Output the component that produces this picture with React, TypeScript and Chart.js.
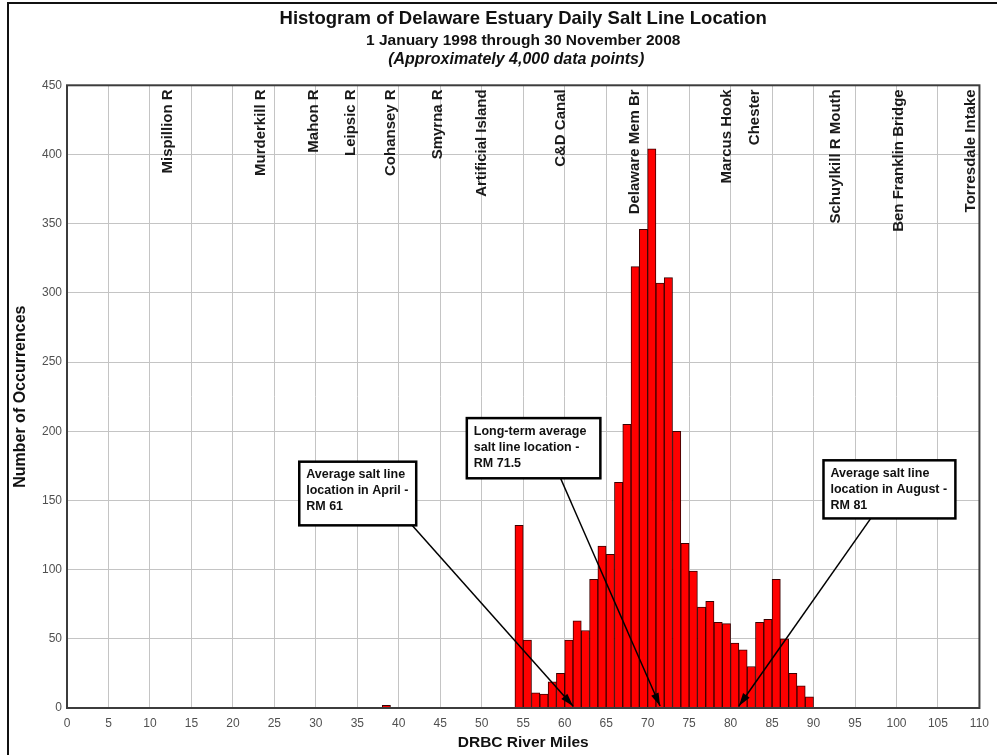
import React, { useEffect, useRef } from "react";
import { Chart, registerables } from "chart.js";

Chart.register(...registerables);

const FONT = "'Liberation Sans', Arial, Helvetica, sans-serif";

// Histogram bins (start mile of each 1-mile bin) and counts
const binStarts = [
  38, 54, 55, 56, 57, 58, 59, 60, 61, 62, 63, 64, 65, 66, 67, 68, 69, 70, 71, 72,
  73, 74, 75, 76, 77, 78, 79, 80, 81, 82, 83, 84, 85, 86, 87, 88, 89,
];
const binCounts = [
  2, 132, 49, 11, 10, 19, 25, 49, 63, 56, 93, 117, 111, 163, 205, 319, 346, 404,
  307, 311, 200, 119, 99, 73, 77, 62, 61, 47, 42, 30, 62, 64, 93, 50, 25, 16, 8,
];

// Landmarks along the estuary (river mile)
const landmarkNames = [
  "Mispillion R",
  "Murderkill R",
  "Mahon R",
  "Leipsic R",
  "Cohansey R",
  "Smyrna R",
  "Artificial Island",
  "C&D Canal",
  "Delaware Mem Br",
  "Marcus Hook",
  "Chester",
  "Schuylkill R Mouth",
  "Ben Franklin Bridge",
  "Torresdale Intake",
];
const landmarkMiles = [
  12.2, 23.4, 29.8, 34.2, 39.0, 44.7, 50.0, 59.5, 68.5, 79.5, 82.9, 92.7, 100.3,
  109.0,
];

// Callouts
const calloutLines = [
  ["Average salt line", "location in April -", "RM 61"],
  ["Long-term average", "salt line location -", "RM 71.5"],
  ["Average salt line", "location in August -", "RM 81"],
];
const calloutTargetMiles = [61, 71.5, 81];

const titleText = "Histogram of Delaware Estuary Daily Salt Line Location";
const subtitleText = "1 January 1998 through 30 November 2008";
const noteText = "(Approximately 4,000 data points)";
const xAxisTitle = "DRBC River Miles";
const yAxisTitle = "Number of Occurrences";

// Callout box placement in data units (left mile, right mile, top value, bottom value, arrow start mile)
const calloutLayout = [
  { left: 28.0, right: 42.1, top: 178, bottom: 132, startMile: 41.6 },
  { left: 48.2, right: 64.3, top: 209.5, bottom: 166, startMile: 59.5 },
  { left: 91.2, right: 107.1, top: 179, bottom: 137, startMile: 96.9 },
];

const overlayPlugin = {
  id: "overlay",
  beforeDraw(chart: any) {
    const { ctx, width, height } = chart;
    ctx.save();
    ctx.fillStyle = "#ffffff";
    ctx.fillRect(0, 0, width, height);
    ctx.strokeStyle = "#111111";
    ctx.lineWidth = 2;
    ctx.beginPath();
    ctx.moveTo(8, height);
    ctx.lineTo(8, 3);
    ctx.lineTo(width, 3);
    ctx.stroke();
    ctx.restore();
  },
  afterDatasetsDraw(chart: any) {
    const { ctx, chartArea: a } = chart;
    const xs = chart.scales.x;
    ctx.save();
    ctx.strokeStyle = "#3c3c3c";
    ctx.lineWidth = 2;
    ctx.strokeRect(a.left, a.top, a.right - a.left, a.bottom - a.top);
    ctx.font = `bold 15px ${FONT}`;
    ctx.fillStyle = "#1a1a1a";
    ctx.textAlign = "right";
    ctx.textBaseline = "middle";
    landmarkNames.forEach((name, i) => {
      const px = xs.getPixelForValue(landmarkMiles[i]);
      ctx.save();
      ctx.translate(px, a.top + 4);
      ctx.rotate(-Math.PI / 2);
      ctx.fillText(name, 0, 0);
      ctx.restore();
    });
    ctx.restore();
  },
  afterDraw(chart: any) {
    const { ctx, chartArea: a } = chart;
    const xs = chart.scales.x;
    const ys = chart.scales.y;
    ctx.save();
    // italic note line under subtitle
    ctx.font = `italic bold 16px ${FONT}`;
    ctx.fillStyle = "#111111";
    ctx.textAlign = "center";
    ctx.textBaseline = "middle";
    ctx.fillText(noteText, (a.left + a.right) / 2 - 7, 60);

    calloutLines.forEach((lines, i) => {
      const L = calloutLayout[i];
      const bl = xs.getPixelForValue(L.left);
      const br = xs.getPixelForValue(L.right);
      const bt = ys.getPixelForValue(L.top);
      const bb = ys.getPixelForValue(L.bottom);
      const sx = xs.getPixelForValue(L.startMile);
      const sy = bb;
      const ex = xs.getPixelForValue(calloutTargetMiles[i]);
      const ey = ys.getPixelForValue(0) - 2;
      // arrow line
      ctx.strokeStyle = "#000000";
      ctx.fillStyle = "#000000";
      ctx.lineWidth = 1.5;
      ctx.beginPath();
      ctx.moveTo(sx, sy);
      ctx.lineTo(ex, ey);
      ctx.stroke();
      const ang = Math.atan2(ey - sy, ex - sx);
      const len = 13;
      const hw = 4;
      ctx.beginPath();
      ctx.moveTo(ex, ey);
      ctx.lineTo(
        ex - len * Math.cos(ang) + hw * Math.sin(ang),
        ey - len * Math.sin(ang) - hw * Math.cos(ang)
      );
      ctx.lineTo(
        ex - len * Math.cos(ang) - hw * Math.sin(ang),
        ey - len * Math.sin(ang) + hw * Math.cos(ang)
      );
      ctx.closePath();
      ctx.fill();
      // box
      ctx.fillStyle = "#ffffff";
      ctx.fillRect(bl, bt, br - bl, bb - bt);
      ctx.strokeStyle = "#000000";
      ctx.lineWidth = 2.5;
      ctx.strokeRect(bl, bt, br - bl, bb - bt);
      ctx.fillStyle = "#111111";
      ctx.font = `bold 12.5px ${FONT}`;
      ctx.textAlign = "left";
      ctx.textBaseline = "middle";
      lines.forEach((t, j) => {
        ctx.fillText(t, bl + 7, bt + 13 + j * 16);
      });
    });
    ctx.restore();
  },
};

export default function App() {
  const ref = useRef<HTMLCanvasElement | null>(null);
  useEffect(() => {
    if (!ref.current) return;
    const data = binStarts.map((s, i) => ({ x: s + 0.5, y: binCounts[i] }));
    const chart = new Chart(ref.current, {
      type: "bar",
      data: {
        datasets: [
          {
            data: data as any,
            backgroundColor: "#ff0000",
            borderColor: "#3a0000",
            borderWidth: 1,
            barPercentage: 1,
            categoryPercentage: 1,
          },
        ],
      },
      options: {
        animation: false,
        responsive: false,
        devicePixelRatio: 1,
        layout: { padding: { left: 10, right: 15, top: 0, bottom: 0 } },
        plugins: {
          legend: { display: false },
          tooltip: { enabled: false },
          title: {
            display: true,
            text: titleText,
            fullSize: false,
            color: "#111111",
            font: { family: FONT, size: 18.5, weight: "bold" },
            padding: { top: 7.4, bottom: 0 },
          },
          subtitle: {
            display: true,
            text: subtitleText,
            fullSize: false,
            color: "#111111",
            font: { family: FONT, size: 15.5, weight: "bold" },
            padding: { top: 2.1, bottom: 35 },
          },
        },
        scales: {
          x: {
            type: "linear",
            min: 0,
            max: 110,
            offset: false,
            afterFit: (s: any) => {
              s.height = 47;
            },
            ticks: {
              stepSize: 5,
              autoSkip: false,
              maxRotation: 0,
              padding: 8,
              color: "#505050",
              font: { family: FONT, size: 12 },
            },
            grid: {
              color: "#c4c4c4",
              lineWidth: 1,
              drawTicks: false,
              offset: false,
            },
            border: { display: false },
            title: {
              display: true,
              text: xAxisTitle,
              color: "#111111",
              font: { family: FONT, size: 15.5, weight: "bold" },
              padding: { top: 0, bottom: 3 },
            },
          },
          y: {
            min: 0,
            max: 450,
            afterFit: (s: any) => {
              s.width = 57;
            },
            ticks: {
              stepSize: 50,
              padding: 5,
              color: "#505050",
              font: { family: FONT, size: 12 },
            },
            grid: { color: "#c4c4c4", lineWidth: 1, drawTicks: false },
            border: { display: false },
            title: {
              display: true,
              text: yAxisTitle,
              color: "#111111",
              font: { family: FONT, size: 16, weight: "bold" },
              padding: { top: 1, bottom: 0 },
            },
          },
        },
      },
      plugins: [overlayPlugin],
    });
    return () => chart.destroy();
  }, []);
  return (
    <div style={{ position: "fixed", left: 0, top: 0, width: 997, height: 755 }}>
      <canvas ref={ref} width={997} height={755} style={{ width: 997, height: 755 }} />
    </div>
  );
}
